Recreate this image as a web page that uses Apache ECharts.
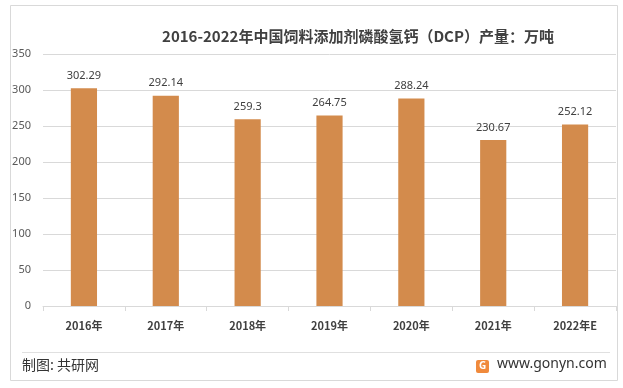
<!DOCTYPE html>
<html><head><meta charset="utf-8">
<script src="https://cdn.jsdelivr.net/npm/echarts@6/dist/echarts.min.js"></script>
<style>html,body{margin:0;padding:0;background:#fff}#c{width:623px;height:388px}</style>
</head><body><div id="c"></div>
<script>
const categories = ['2016年','2017年','2018年','2019年','2020年','2021年','2022年E'];
const values = [302.29, 292.14, 259.3, 264.75, 288.24, 230.67, 252.12];
const titleText = '2016-2022年中国饲料添加剂磷酸氢钙（DCP）产量：万吨';
const sourceText = '制图: 共研网';
const siteText = 'www.gonyn.com';

const chart = echarts.init(document.getElementById('c'));
chart.setOption({
  animation: false,
  title: {
    text: titleText, left: 353, top: 24, textAlign: 'center',
    textStyle: {fontSize: 15, fontWeight: 'bold', color: '#404040', fontFamily: 'Noto Sans CJK SC'}
  },
  grid: {left: 43, right: 7, top: 54, bottom: 82},
  xAxis: {
    type: 'category', data: categories,
    axisLine: {lineStyle: {color: '#d9d9d9'}},
    axisTick: {show: true, alignWithLabel: false, lineStyle: {color: '#d9d9d9'}},
    axisLabel: {color: '#404040', fontSize: 11, fontWeight: 'bold', margin: 14, fontFamily: 'Noto Sans CJK SC'}
  },
  yAxis: {
    type: 'value', min: 0, max: 350, interval: 50,
    axisLine: {show: false}, axisTick: {show: false},
    splitLine: {lineStyle: {color: '#d9d9d9'}},
    axisLabel: {color: '#595959', fontSize: 11, margin: 12, fontFamily: 'Noto Sans'}
  },
  series: [{
    type: 'bar', data: values, barWidth: '32%',
    itemStyle: {color: '#D38B4C'},
    label: {show: true, position: 'top', color: '#404040', fontSize: 11, distance: 7, fontFamily: 'Noto Sans'}
  }],
  graphic: [
    {type: 'rect', shape: {x: 10.5, y: 5.5, width: 607, height: 375}, style: {fill: 'none', stroke: '#d9d9d9', lineWidth: 1}, z: -1},
    {type: 'line', shape: {x1: 22, y1: 352.5, x2: 610, y2: 352.5}, style: {stroke: '#e0e0e0', lineWidth: 1}},
    {type: 'text', left: 22, top: 358, style: {text: sourceText, fontSize: 14, fill: '#333', fontFamily: 'Noto Sans CJK SC'}},
    {type: 'rect', shape: {x: 476, y: 360, width: 13, height: 13, r: 2}, style: {fill: '#F08A3C'}},
    {type: 'text', x: 482.5, y: 366.5, style: {text: 'G', fontSize: 10, fontWeight: 'bold', fill: '#fff', align: 'center', verticalAlign: 'middle', fontFamily: 'Noto Sans'}},
    {type: 'text', left: 497, top: 357, style: {text: siteText, fontSize: 14, fill: '#333', fontFamily: 'Noto Sans'}}
  ]
});
</script></body></html>
